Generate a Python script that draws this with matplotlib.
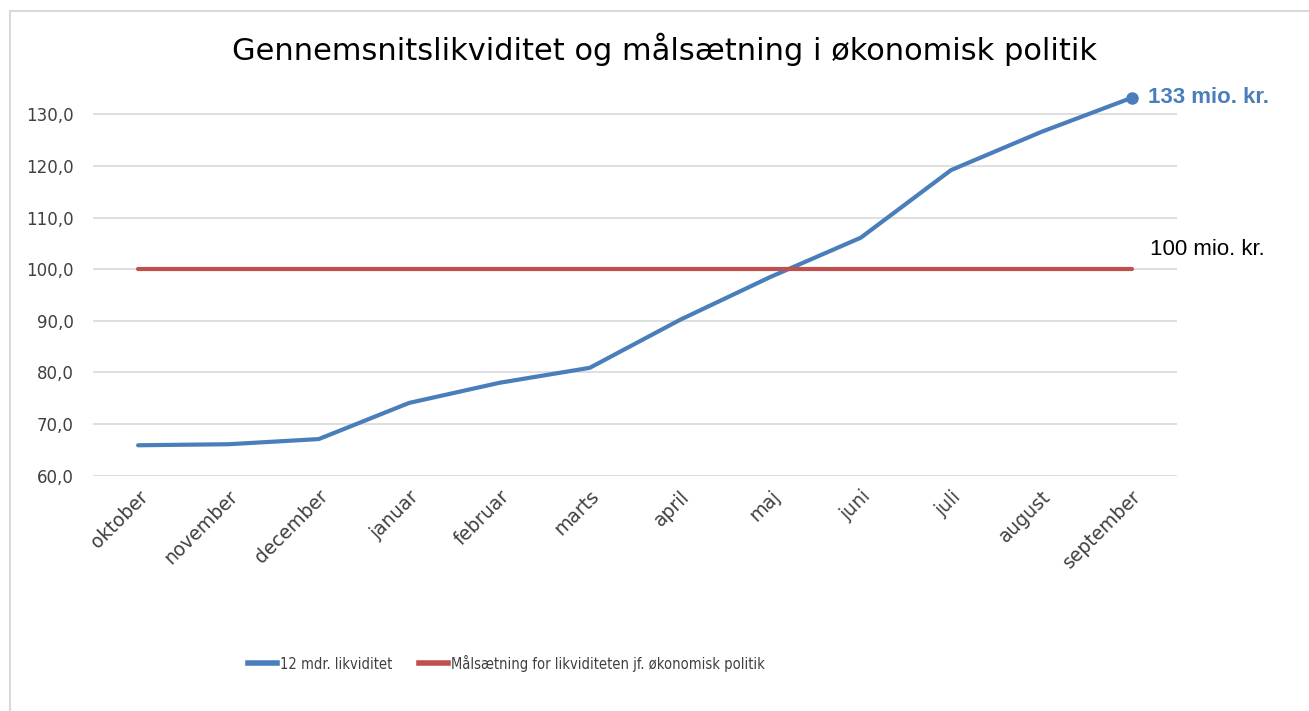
import matplotlib
matplotlib.use('Agg')
import matplotlib.pyplot as plt
from matplotlib.lines import Line2D

months = ['oktober', 'november', 'december', 'januar', 'februar', 'marts',
          'april', 'maj', 'juni', 'juli', 'august', 'september']
liquidity = [65.9, 66.1, 67.1, 74.1, 78.0, 80.9, 90.2, 98.5, 106.1, 119.2, 126.6, 133.2]
target = [100.0] * 12
yticks = [60, 70, 80, 90, 100, 110, 120, 130]

blue = '#4A7EBB'
red = '#C0504D'

plt.rcParams['font.family'] = ['DejaVu Sans']

fig = plt.figure(figsize=(13.09, 7.11), dpi=100)
ax = fig.add_axes([0.0710, 0.3309, 0.8281, 0.5519])

x = list(range(len(months)))
ax.plot(x, liquidity, color=blue, linewidth=3, solid_capstyle='round', label='12 mdr. likviditet')
ax.plot(x, target, color=red, linewidth=3, solid_capstyle='round',
        label='Målsætning for likviditeten jf. økonomisk politik')
ax.plot(x[-1], liquidity[-1], 'o', color=blue, markersize=8)

ax.set_xlim(-0.5, len(months) - 0.5)
ax.set_ylim(60, 136)
ax.set_yticks(yticks)
ax.set_yticklabels([('%.1f' % v).replace('.', ',') for v in yticks],
                   fontsize=12, color='#404040')
ax.set_xticks(x)
ax.set_xticklabels(months, rotation=45, ha='right', va='top', rotation_mode='anchor',
                   fontsize=13.5, color='#404040')
ax.tick_params(length=0, pad=14)
ax.tick_params(axis='x', pad=8)
ax.grid(axis='y', color='#D9D9D9', linewidth=1.2)
ax.set_axisbelow(True)
for s in ax.spines.values():
    s.set_visible(False)

ax.annotate('133 mio. kr.', xy=(x[-1], liquidity[-1]), xytext=(12, 0), textcoords='offset points',
            color=blue, fontsize=16, fontweight='bold', va='center', ha='left',
            family='Liberation Sans')
ax.annotate('100 mio. kr.', xy=(x[-1], 100), xytext=(13, 14), textcoords='offset points',
            color='black', fontsize=16, va='center', ha='left', family='Liberation Sans')

fig.text(0.508, 0.93, 'Gennemsnitslikviditet og målsætning i økonomisk politik',
         ha='center', va='center', fontsize=22, color='black')

handles = [Line2D([], [], color=blue, linewidth=4),
           Line2D([], [], color=red, linewidth=4)]
fig.legend(handles, ['12 mdr. likviditet', 'Målsætning for likviditeten jf. økonomisk politik'],
           loc='center', bbox_to_anchor=(0.387, 0.0675), ncol=2, frameon=False,
           prop={'family': 'DejaVu Sans', 'stretch': 'condensed', 'size': 10.5},
           handlelength=2.0, handletextpad=0.2, columnspacing=1.8,
           labelcolor='#404040')

# thin frame at top and left like the screenshot
fig.add_artist(Line2D([10 / 1309, 10 / 1309], [0, 1 - 11 / 711], transform=fig.transFigure,
                      color='#D9D9D9', linewidth=1.5))
fig.add_artist(Line2D([10 / 1309, 1], [1 - 11 / 711, 1 - 11 / 711], transform=fig.transFigure,
                      color='#D9D9D9', linewidth=1.5))

fig.savefig('out.png', dpi=100)
